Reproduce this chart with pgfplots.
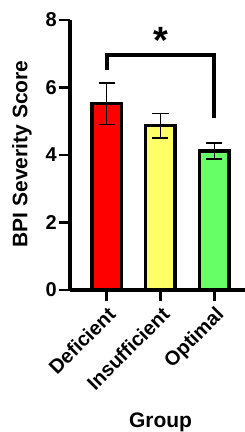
\documentclass[border=0pt]{standalone}
\usepackage{fontspec}
\setmainfont{Liberation Sans}
\usepackage{pgfplots}
\pgfplotsset{compat=1.18}
\definecolor{cred}{RGB}{255,0,0}
\definecolor{cyel}{RGB}{255,255,102}
\definecolor{cgrn}{RGB}{102,255,102}
\newcommand{\lf}{\fontsize{21bp}{24bp}\selectfont\bfseries}
\newcommand{\tf}{\fontsize{20bp}{23bp}\selectfont\bfseries}
\begin{document}
\begin{tikzpicture}
\useasboundingbox (0,0) rectangle (245bp,432bp);
\begin{axis}[
  at={(70bp,142bp)}, anchor=south west,
  scale only axis, width=175bp, height=270bp,
  xmin=-0.676, xmax=2.565, ymin=0, ymax=8,
  clip=false,
  axis x line*=bottom, axis y line*=left,
  axis line style={line width=3bp, black, -},
  tick align=outside, major tick length=11bp,
  tick style={line width=2.2bp, black},
  xtick={0,1,2}, xticklabels={Deficient,Insufficient,Optimal},
  ytick={0,2,4,6,8},
  /pgf/number format/assume math mode=true,
  tick label style={font=\tf},
  yticklabel style={inner sep=2bp},
  xticklabel style={rotate=45, anchor=north east, inner sep=1bp},
  xticklabel shift=3bp,
  xlabel={Group},
  xlabel style={font=\lf, at={(axis cs:1,0)}, anchor=base, yshift=-137bp},
  every axis plot/.append style={ybar, bar width=29.5bp, bar shift=0pt, draw=black, line width=3.5bp},
]
\addplot[fill=cred, error bars/.cd, y dir=both, y explicit,
  error bar style={line width=1.5bp, black}, error mark options={rotate=90, mark size=8bp, line width=1.5bp, black}]
  coordinates {(0,5.52) +- (0,0.61)};
\addplot[fill=cyel, error bars/.cd, y dir=both, y explicit,
  error bar style={line width=1.5bp, black}, error mark options={rotate=90, mark size=8bp, line width=1.5bp, black}]
  coordinates {(1,4.87) +- (0,0.36)};
\addplot[fill=cgrn, error bars/.cd, y dir=both, y explicit,
  error bar style={line width=1.5bp, black}, error mark options={rotate=90, mark size=8bp, line width=1.5bp, black}]
  coordinates {(2,4.12) +- (0,0.24)};
\draw[line width=3bp] (axis cs:-0.676,0) -- ++(-11bp,0);
\draw[line width=4bp] (axis cs:0,6.52) -- (axis cs:0,6.96) -- (axis cs:2,6.96) -- (axis cs:2,5.1);
\node[font=\fontsize{38bp}{38bp}\selectfont\bfseries] at (axis cs:1,7.4) {*};
\node[font=\lf, xshift=-48bp, rotate=90] at (axis description cs:0,0.504) {BPI Severity Score};
\end{axis}
\end{tikzpicture}
\end{document}
